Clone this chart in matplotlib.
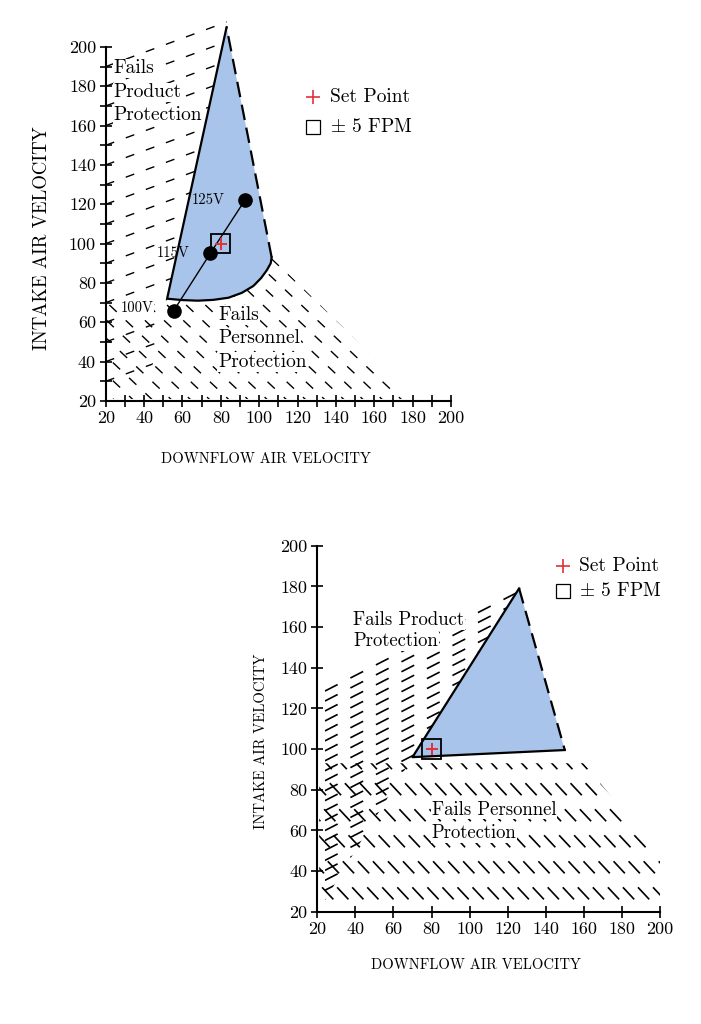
import numpy as np
import matplotlib.pyplot as plt
from matplotlib.patches import Polygon, Rectangle

plt.rcParams['font.family'] = ['cmr10', 'DejaVu Serif']
plt.rcParams['mathtext.fontset'] = 'cm'
plt.rcParams['axes.formatter.use_mathtext'] = True

BLUE = '#a9c4ea'
RED = '#e0303a'

# ---- top chart (cabinet with voltage points) ----
top_zone_x = [83, 52, 60, 68, 76, 84, 91, 97, 101, 104, 106, 106.5]
top_zone_y = [210, 72, 71.3, 71, 71.4, 72.5, 75, 78.5, 82.5, 86.5, 90, 93]
top_volt_x = [55.5, 74.5, 92.5]
top_volt_y = [66, 95, 122]
volt_labels = ['100V', '115V', '125V']
top_product_zone = [(20, 30), (42.6, 30), (52, 72), (83, 210), (83, 215), (20, 215)]
top_personnel_zone = ([(20, 21), (20, 70)] + list(zip(top_zone_x[1:], top_zone_y[1:]))
                      + [(107.5, 92), (182, 21)])

# ---- bottom chart ----
bot_zone_x = [70, 126, 150]
bot_zone_y = [96, 179, 99.5]
bot_product_zone = [(23, 24), (70, 96), (126, 179), (126, 185), (24, 185), (24, 24)]
bot_personnel_zone = [(21, 21), (21, 93), (160, 93), (200.5, 47), (200.5, 21)]

set_point = (80, 100)
tol = 5
ticks = list(range(20, 201, 20))


def hatch(ax, zone, p0, p1, shift, count, dashes, lw=1.0):
    clip = Polygon(zone, closed=True, fill=False, edgecolor='none')
    ax.add_patch(clip)
    for k in range(count):
        xs = [p0[0] + shift[0] * k, p1[0] + shift[0] * k]
        ys = [p0[1] + shift[1] * k, p1[1] + shift[1] * k]
        ln, = ax.plot(xs, ys, color='black', lw=lw, linestyle=(0, dashes),
                      dash_capstyle='butt', zorder=1)
        ln.set_clip_path(clip)


def label(ax, x, y, s, size):
    ax.text(x, y, s, fontsize=size, va='baseline', ha='left', zorder=4,
            bbox=dict(facecolor='white', edgecolor='none', pad=0.6))


def setup(ax, ylim, minor):
    ax.set_xlim(20, 200)
    ax.set_ylim(*ylim)
    for s in ['top', 'right']:
        ax.spines[s].set_visible(False)
    for s in ['left', 'bottom']:
        ax.spines[s].set_linewidth(1.5)
        ax.spines[s].set_bounds(20, 200)
    ax.set_xticks(ticks)
    ax.set_yticks(ticks)
    ax.set_xticklabels([str(t) for t in ticks])
    ax.set_yticklabels([str(t) for t in ticks])
    if minor:
        ax.set_xticks(list(range(30, 200, 20)), minor=True)
        ax.set_yticks(list(range(30, 200, 20)), minor=True)
    ax.tick_params(which='both', direction='inout', length=8, width=1.2,
                   labelsize=13, pad=3)


def legend(ax, x, y, dy):
    ax.plot(x, y, '+', color=RED, ms=10, mew=1.2, clip_on=False, zorder=5)
    ax.plot(x, y - dy, 's', mfc='white', mec='black', ms=9.5, mew=0.9,
            clip_on=False, zorder=5)
    ax.text(x + 8.5, y, 'Set Point', fontsize=14, va='center')
    ax.text(x + 8.5, y - dy, r'$\pm$ 5 FPM', fontsize=14, va='center')


def set_point_box(ax):
    ax.add_patch(Rectangle((set_point[0] - tol, set_point[1] - tol), 2 * tol, 2 * tol,
                           fill=False, edgecolor='black', lw=1.3, zorder=4))
    ax.plot(*set_point, '+', color=RED, ms=9, mew=1.4, zorder=5)


fig = plt.figure(figsize=(7.01, 10.24), dpi=100)

# top chart
ax1 = fig.add_axes([0.1508, 0.6084, 0.4926, 0.3746])
setup(ax1, (20, 215), True)
hatch(ax1, top_product_zone, (20, 190), (100, 218.8), (0, -10), 17, (6.5, 8.9))
hatch(ax1, top_personnel_zone, (98.04, 100), (190.4, 15), (-10, 0), 17, (7.2, 8.9))
ax1.fill(top_zone_x, top_zone_y, color=BLUE, zorder=2, lw=0)
ax1.plot(top_zone_x, top_zone_y, color='black', lw=1.6, zorder=3)
ax1.plot([top_zone_x[-1], top_zone_x[0]], [top_zone_y[-1], top_zone_y[0]],
         color='black', lw=1.6, linestyle=(0, (7, 3.5)), zorder=3)
ax1.plot(top_volt_x, top_volt_y, color='black', lw=1.0, zorder=4)
ax1.plot(top_volt_x, top_volt_y, 'o', color='black', ms=9.5, zorder=4)
ax1.text(top_volt_x[0] - 10.5, top_volt_y[0] + 1, volt_labels[0], fontsize=10.5,
         ha='right', va='center', zorder=4,
         bbox=dict(facecolor='white', edgecolor='none', pad=0.5))
ax1.text(top_volt_x[1] - 10.5, top_volt_y[1], volt_labels[1], fontsize=10.5,
         ha='right', va='center', zorder=4)
ax1.text(top_volt_x[2] - 10.3, top_volt_y[2], volt_labels[2], fontsize=10.5,
         ha='right', va='center', zorder=4)
set_point_box(ax1)
for s, yy in zip(['Fails', 'Product', 'Protection'], [186.6, 174.4, 162.9]):
    label(ax1, 24, yy, s, 14)
for s, yy in zip(['Fails', 'Personnel', 'Protection'], [61.2, 49.3, 37.4]):
    label(ax1, 78.6, yy, s, 14)
legend(ax1, 128.3, 174.5, 15.2)
ax1.text(103.5, -9.5, 'DOWNFLOW AIR VELOCITY', fontsize=10.5, ha='center', va='center')
ax1.text(-13.2, 102.9, 'INTAKE AIR VELOCITY', fontsize=13.5, ha='center', va='center',
         rotation=90)

# bottom chart
ax2 = fig.add_axes([0.4526, 0.1097, 0.4889, 0.3673])
setup(ax2, (20, 205), False)
hatch(ax2, bot_product_zone, (24, 128.5), (135, 181.8), (0, -4.9), 22, (8.6, 8.6), lw=1.2)
hatch(ax2, bot_personnel_zone, (156, 96), (234, 18), (-7.9, 0), 28, (9.9, 11.5), lw=1.2)
ax2.fill(bot_zone_x, bot_zone_y, color=BLUE, zorder=2, lw=0)
ax2.plot([bot_zone_x[2], bot_zone_x[0], bot_zone_x[1]],
         [bot_zone_y[2], bot_zone_y[0], bot_zone_y[1]], color='black', lw=1.6, zorder=3)
ax2.plot(bot_zone_x[1:], bot_zone_y[1:], color='black', lw=1.6,
         linestyle=(0, (7, 3.5)), zorder=3)
set_point_box(ax2)
for s, yy in zip(['Fails Product', 'Protection'], [161.1, 150.5]):
    label(ax2, 38.9, yy, s, 13.5)
for s, yy in zip(['Fails Personnel', 'Protection'], [67.7, 56.2]):
    label(ax2, 80, yy, s, 13.5)
legend(ax2, 149, 189.8, 12.3)
ax2.text(103.2, -6.2, 'DOWNFLOW AIR VELOCITY', fontsize=10.5, ha='center', va='center')
ax2.text(-9.6, 103.6, 'INTAKE AIR VELOCITY', fontsize=10.5, ha='center', va='center',
         rotation=90)

fig.savefig('out.png', dpi=100)
